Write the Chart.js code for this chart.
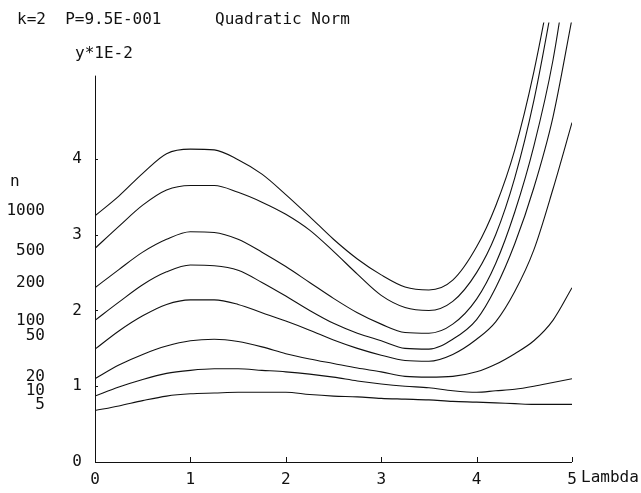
<!DOCTYPE html>
<html>
<head>
<meta charset="utf-8">
<title>Quadratic Norm</title>
<script src="https://cdn.jsdelivr.net/npm/chart.js@4.4.1/dist/chart.umd.min.js"></script>
<style>
  html, body { margin: 0; padding: 0; background: #fff; }
  #chart { display: block; }
</style>
</head>
<body>
<canvas id="chart" width="641" height="493"></canvas>
<script>
// lambda grid (x values)
const lambdas = [0, 0.25, 0.5, 0.75, 1, 1.25, 1.5, 1.75, 2, 2.25, 2.5, 2.75, 3, 3.25, 3.5, 3.75, 4, 4.2, 4.4, 4.6, 4.8, 5];

// y*1E-2 for each n
const n1000 = [3.25, 3.51, 3.81, 4.07, 4.13, 4.12, 3.99, 3.80, 3.53, 3.24, 2.94, 2.68, 2.47, 2.31, 2.27, 2.40, 2.84, 3.38, 4.12, 5.15, 6.45, 7.9];
const n500  = [2.82, 3.11, 3.39, 3.59, 3.65, 3.65, 3.56, 3.43, 3.27, 3.06, 2.78, 2.48, 2.20, 2.04, 2.00, 2.12, 2.50, 3.00, 3.75, 4.77, 6.1, 7.6];
const n200  = [2.30, 2.54, 2.77, 2.94, 3.04, 3.03, 2.94, 2.77, 2.58, 2.37, 2.16, 1.97, 1.82, 1.71, 1.70, 1.82, 2.15, 2.62, 3.30, 4.17, 5.30, 6.9];
const n100  = [1.87, 2.11, 2.34, 2.51, 2.60, 2.59, 2.53, 2.37, 2.19, 2.00, 1.83, 1.70, 1.60, 1.50, 1.49, 1.62, 1.88, 2.30, 2.88, 3.62, 4.55, 5.85];
const n50   = [1.49, 1.73, 1.93, 2.08, 2.14, 2.14, 2.08, 1.97, 1.86, 1.74, 1.61, 1.50, 1.41, 1.34, 1.33, 1.42, 1.62, 1.85, 2.25, 2.80, 3.60, 4.48];
const n20   = [1.10, 1.28, 1.42, 1.53, 1.60, 1.62, 1.59, 1.52, 1.43, 1.36, 1.30, 1.24, 1.19, 1.13, 1.12, 1.13, 1.19, 1.29, 1.43, 1.60, 1.87, 2.30];
const n10   = [0.87, 0.99, 1.09, 1.17, 1.21, 1.23, 1.23, 1.21, 1.19, 1.16, 1.12, 1.07, 1.03, 1.00, 0.98, 0.94, 0.92, 0.94, 0.96, 1.00, 1.05, 1.10];
const n5    = [0.68, 0.74, 0.81, 0.87, 0.90, 0.91, 0.92, 0.92, 0.92, 0.89, 0.87, 0.86, 0.84, 0.83, 0.82, 0.80, 0.79, 0.78, 0.77, 0.76, 0.76, 0.76];

const seriesNames = ["1000", "500", "200", "100", "50", "20", "10", "5"];
const seriesValues = [n1000, n500, n200, n100, n50, n20, n10, n5];

const xTicks = [0, 1, 2, 3, 4, 5];
const yTicks = [0, 1, 2, 3, 4];

// where the n labels sit on the left margin (pixel y)
const nLabelY = [211, 251, 283, 321, 336, 377, 391, 405];

const FONT = '"DejaVu Sans Mono", "Liberation Mono", monospace';
const INK = "#111";

const decorations = {
  id: "decorations",
  afterDraw(chart) {
    const { ctx } = chart;
    const xs = chart.scales.x;
    const ys = chart.scales.y;
    const x0 = xs.getPixelForValue(0);
    const x5 = xs.getPixelForValue(5);
    const y0 = ys.getPixelForValue(0);
    const yTop = ys.getPixelForValue(5.1);

    ctx.save();
    ctx.strokeStyle = INK;
    ctx.lineWidth = 1;
    ctx.beginPath();
    ctx.moveTo(x0 + 0.5, yTop);
    ctx.lineTo(x0 + 0.5, y0 + 0.5);
    ctx.lineTo(x5, y0 + 0.5);
    xTicks.forEach(v => {
      const px = Math.round(xs.getPixelForValue(v)) + 0.5;
      ctx.moveTo(px, y0);
      ctx.lineTo(px, y0 - 5);
    });
    yTicks.forEach(v => {
      const py = Math.round(ys.getPixelForValue(v)) + 0.5;
      ctx.moveTo(x0, py);
      ctx.lineTo(x0 + 3, py);
    });
    ctx.stroke();

    ctx.fillStyle = INK;
    ctx.font = "16px " + FONT;
    ctx.textBaseline = "middle";
    ctx.textAlign = "left";
    ctx.fillText("k=2  P=9.5E-001", 17, 20);
    ctx.fillText("Quadratic Norm", 215, 20);
    ctx.fillText("y*1E-2", 75, 54);
    ctx.fillText("n", 10, 182);
    ctx.fillText("Lambda", 581, 478);

    ctx.textAlign = "right";
    seriesNames.forEach((name, i) => ctx.fillText(name, 45, nLabelY[i]));
    ctx.restore();
  }
};

new Chart(document.getElementById("chart"), {
  type: "line",
  data: {
    datasets: seriesValues.map((vals, i) => ({
      label: "n=" + seriesNames[i],
      data: lambdas.map((l, j) => ({ x: l, y: vals[j] })),
      borderColor: INK,
      borderWidth: 1.1,
      pointRadius: 0,
      cubicInterpolationMode: "monotone",
      fill: false
    }))
  },
  options: {
    responsive: false,
    animation: false,
    devicePixelRatio: 1,
    layout: { padding: { top: 15, right: 69, left: 0, bottom: 0 } },
    plugins: { legend: { display: false }, tooltip: { enabled: false } },
    scales: {
      x: {
        type: "linear",
        min: 0,
        max: 5,
        grid: { display: false, drawTicks: false },
        border: { display: false },
        afterBuildTicks: s => { s.ticks = xTicks.map(v => ({ value: v })); },
        afterFit: s => { s.height = 31; },
        ticks: { color: INK, padding: 8, font: { family: FONT, size: 16 }, maxRotation: 0 }
      },
      y: {
        type: "linear",
        min: 0,
        max: 5.8,
        grid: { display: false, drawTicks: false },
        border: { display: false },
        afterBuildTicks: s => { s.ticks = yTicks.map(v => ({ value: v })); },
        afterFit: s => { s.width = 95; },
        ticks: { color: INK, padding: 13, font: { family: FONT, size: 16 } }
      }
    }
  },
  plugins: [decorations]
});
</script>
</body>
</html>
